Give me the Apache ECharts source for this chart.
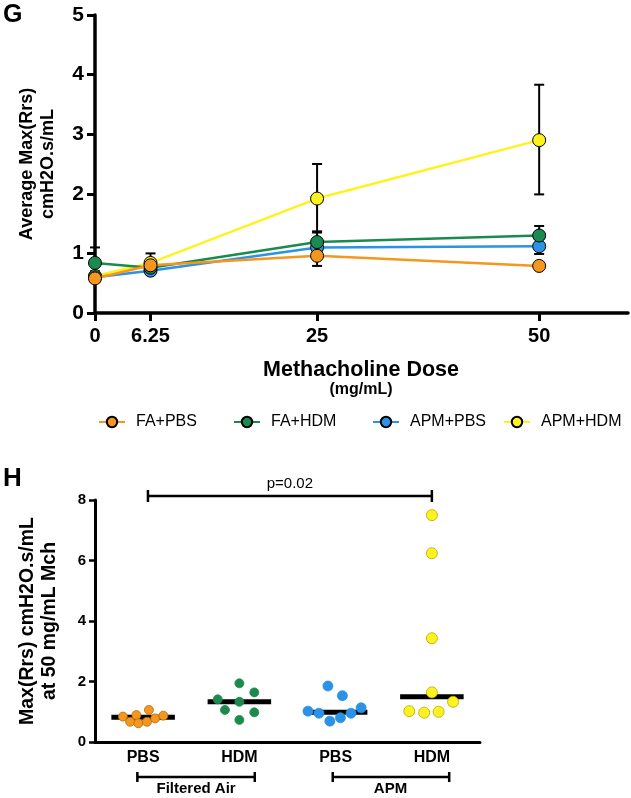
<!DOCTYPE html>
<html><head><meta charset="utf-8">
<script src="https://cdn.jsdelivr.net/npm/echarts@6/dist/echarts.min.js"></script>
<style>html,body{margin:0;padding:0;background:#fff}#c{width:631px;height:798px}</style>
</head><body><div id="c"></div>
<script>
// ---- Panel G data ----
const doses = [0, 6.25, 25, 50];
const doseTicks = [0, 6.25, 25, 50];
const seriesNames = ['FA+PBS', 'FA+HDM', 'APM+PBS', 'APM+HDM'];
const faPbsMean = [0.58, 0.80, 0.96, 0.79];
const faPbsLow  = [0.52, 0.72, 0.79, 0.75];
const faPbsHigh = [0.64, 0.88, 1.13, 0.84];
const faHdmMean = [0.84, 0.76, 1.19, 1.30];
const faHdmLow  = [0.60, 0.70, 1.00, 1.15];
const faHdmHigh = [1.10, 0.82, 1.37, 1.46];
const apmPbsMean = [0.60, 0.71, 1.10, 1.12];
const apmPbsLow  = [0.55, 0.65, 1.04, 0.99];
const apmPbsHigh = [0.65, 0.77, 1.16, 1.25];
const apmHdmMean = [0.62, 0.84, 1.92, 2.90];
const apmHdmLow  = [0.55, 0.68, 1.35, 1.99];
const apmHdmHigh = [0.70, 1.00, 2.50, 3.83];

// ---- Panel H data ----
const groupLabels = ['PBS', 'HDM', 'PBS', 'HDM'];
const faPbsPts    = [0.84, 0.67, 0.89, 0.62, 0.67, 1.06, 0.78, 0.87];
const faPbsJitter = [-0.21, -0.135, -0.07, -0.05, 0.04, 0.06, 0.125, 0.21];
const faHdmPts    = [1.41, 1.06, 1.94, 1.33, 0.73, 1.64, 0.98];
const faHdmJitter = [-0.225, -0.15, 0, 0, 0, 0.155, 0.155];
const apmPbsPts    = [1.02, 0.95, 1.85, 0.69, 0.80, 1.53, 0.95, 1.13];
const apmPbsJitter = [-0.287, -0.173, -0.08, -0.06, 0.05, 0.07, 0.16, 0.265];
const apmHdmPts    = [1.02, 0.97, 1.00, 1.64, 1.33, 7.50, 6.24, 3.43];
const apmHdmJitter = [-0.235, -0.08, 0.07, 0, 0.22, 0, 0, 0];
const medians = [0.82, 1.33, 0.98, 1.50];
const pText = 'p=0.02';
const exposureLabels = ['Filtered Air', 'APM'];

const FONT = "'Liberation Sans', Arial, sans-serif";
const colors = ['#F5961E', '#1A8A4E', '#2C92E6', '#FFF21E'];
const dotBorders = ['#B86A10', '#1A8A4E', '#2C92E6', '#B5A800'];
const dotSizes = [9, 9, 10, 11];
const legendLefts = [93, 228, 367, 498];

const means = [faPbsMean, faHdmMean, apmPbsMean, apmHdmMean];
const lows = [faPbsLow, faHdmLow, apmPbsLow, apmHdmLow];
const highs = [faPbsHigh, faHdmHigh, apmPbsHigh, apmHdmHigh];
const pts = [faPbsPts, faHdmPts, apmPbsPts, apmHdmPts];
const jit = [faPbsJitter, faHdmJitter, apmPbsJitter, apmHdmJitter];

const chart = echarts.init(document.getElementById('c'), null, {renderer: 'canvas'});

const series = [];
// error bars (drawn under symbols)
seriesNames.forEach((n, i) => {
  series.push({
    type: 'custom', name: n + ' err', xAxisIndex: 0, yAxisIndex: 0, z: 1,
    data: doses.map((d, k) => [d, lows[i][k], highs[i][k]]),
    encode: {x: 0, y: [1, 2]},
    renderItem: function (params, api) {
      const x = api.value(0);
      const lo = api.coord([x, api.value(1)]);
      const hi = api.coord([x, api.value(2)]);
      const w = 5;
      const st = {stroke: '#000', lineWidth: 2};
      return {type: 'group', children: [
        {type: 'line', shape: {x1: lo[0], y1: lo[1], x2: hi[0], y2: hi[1]}, style: st},
        {type: 'line', shape: {x1: lo[0] - w, y1: lo[1], x2: lo[0] + w, y2: lo[1]}, style: st},
        {type: 'line', shape: {x1: hi[0] - w, y1: hi[1], x2: hi[0] + w, y2: hi[1]}, style: st}
      ]};
    }
  });
});
// lines, orange on top
const zOrder = [6, 4, 3, 2];
seriesNames.forEach((n, i) => {
  series.push({
    type: 'line', name: n, xAxisIndex: 0, yAxisIndex: 0, z: zOrder[i],
    data: doses.map((d, k) => [d, means[i][k]]),
    symbol: 'circle', symbolSize: 13,
    lineStyle: {color: colors[i], width: 2.5},
    itemStyle: {color: colors[i], borderColor: '#000', borderWidth: 1},
    emphasis: {disabled: true}
  });
});
// medians
series.push({
  type: 'custom', name: 'median', xAxisIndex: 1, yAxisIndex: 1, z: 1,
  data: medians.map((m, i) => [i + 0.5, m]),
  renderItem: function (params, api) {
    const x = api.value(0), y = api.value(1);
    const a = api.coord([x - 0.33, y]), b = api.coord([x + 0.33, y]);
    return {type: 'line', shape: {x1: a[0], y1: a[1], x2: b[0], y2: b[1]}, style: {stroke: '#000', lineWidth: 5}};
  }
});
// dots
seriesNames.forEach((n, i) => {
  series.push({
    type: 'scatter', name: n + ' pts', xAxisIndex: 1, yAxisIndex: 1, z: 3,
    data: pts[i].map((v, k) => [i + 0.5 + jit[i][k], v]),
    symbol: 'circle', symbolSize: dotSizes[i],
    itemStyle: {color: colors[i], borderColor: dotBorders[i], borderWidth: 0.8, opacity: 1},
    emphasis: {disabled: true}
  });
});

const axisLine = w => ({show: true, onZero: false, lineStyle: {color: '#000', width: w}});

const option = {
  animation: false,
  backgroundColor: '#fff',
  textStyle: {fontFamily: FONT},
  grid: [
    {left: 95, right: 3, top: 15, height: 298},
    {left: 95, width: 385, top: 500, height: 242}
  ],
  legend: seriesNames.map((n, i) => ({
    data: [n], left: legendLefts[i], top: 409, itemWidth: 26, itemHeight: 13,
    textStyle: {fontSize: 16, color: '#000', fontFamily: FONT, padding: [0, 0, 0, 6]},
    selectedMode: false
  })),
  xAxis: [
    {type: 'value', gridIndex: 0, min: 0, max: 60,
     axisLine: axisLine(3.5),
     axisTick: {show: true, customValues: doseTicks, length: 8, lineStyle: {color: '#000', width: 3}},
     axisLabel: {customValues: doseTicks, fontSize: 20, fontWeight: 'bold', color: '#000', margin: 13, fontFamily: FONT},
     splitLine: {show: false}},
    {type: 'value', gridIndex: 1, min: 0, max: 4,
     axisLine: axisLine(3),
     axisTick: {show: false},
     axisLabel: {customValues: [0.5, 1.5, 2.5, 3.5], formatter: v => groupLabels[Math.floor(v)],
       fontSize: 16, fontWeight: 'bold', color: '#000', margin: 8, fontFamily: FONT},
     splitLine: {show: false}}
  ],
  yAxis: [
    {type: 'value', gridIndex: 0, min: 0, max: 5, interval: 1,
     axisLine: axisLine(3.5),
     axisTick: {show: true, length: 8, lineStyle: {color: '#000', width: 3}},
     axisLabel: {fontSize: 21, fontWeight: 'bold', color: '#000', margin: 11, fontFamily: FONT},
     splitLine: {show: false},
     name: 'Average Max(Rrs)\ncmH2O.s/mL', nameLocation: 'middle', nameRotate: 90, nameGap: 36,
     nameTextStyle: {fontSize: 18, fontWeight: 'bold', color: '#000', lineHeight: 21, fontFamily: FONT}},
    {type: 'value', gridIndex: 1, min: 0, max: 8, interval: 2,
     axisLine: axisLine(3),
     axisTick: {show: true, length: 6, lineStyle: {color: '#000', width: 2.5}},
     axisLabel: {fontSize: 15, fontWeight: 'bold', color: '#000', margin: 9, fontFamily: FONT},
     splitLine: {show: false},
     name: 'Max(Rrs) cmH2O.s/mL\nat 50 mg/mL Mch', nameLocation: 'middle', nameRotate: 90, nameGap: 34,
     nameTextStyle: {fontSize: 19.5, fontWeight: 'bold', color: '#000', lineHeight: 22, fontFamily: FONT}}
  ],
  series: series
};
chart.setOption(option);

// annotations
const px = v => chart.convertToPixel({xAxisIndex: 1}, v);
const gridBottom = chart.convertToPixel({yAxisIndex: 1}, 0);
const gridTop = chart.convertToPixel({yAxisIndex: 1}, 8);
const st = {stroke: '#000', lineWidth: 2.5};
const g = [];
function bracket(x1, x2, y, cap) {
  g.push({type: 'line', shape: {x1: x1, y1: y, x2: x2, y2: y}, style: st});
  g.push({type: 'line', shape: {x1: x1, y1: y - cap, x2: x1, y2: y + cap}, style: st});
  g.push({type: 'line', shape: {x1: x2, y1: y - cap, x2: x2, y2: y + cap}, style: st});
}
const pY = gridTop - 4;
bracket(px(0.55), px(3.5), pY, 6);
g.push({type: 'text', x: (px(0.55) + px(3.5)) / 2, y: pY - 12,
  style: {text: pText, font: '15px ' + FONT, fill: '#000', align: 'center', verticalAlign: 'middle'}});
const gY = gridBottom + 35;
bracket(px(0.44), px(1.66), gY, 5);
bracket(px(2.47), px(3.68), gY, 5);
g.push({type: 'text', x: px(1.05), y: gY + 12,
  style: {text: exposureLabels[0], font: 'bold 15px ' + FONT, fill: '#000', align: 'center', verticalAlign: 'middle'}});
g.push({type: 'text', x: px(3.07), y: gY + 12,
  style: {text: exposureLabels[1], font: 'bold 15px ' + FONT, fill: '#000', align: 'center', verticalAlign: 'middle'}});
// panel letters and x-axis title
g.push({type: 'text', x: 3, y: 3, style: {text: 'G', font: 'bold 25px ' + FONT, fill: '#000'}});
g.push({type: 'text', x: 3, y: 466, style: {text: 'H', font: 'bold 26px ' + FONT, fill: '#000'}});
g.push({type: 'text', x: 361, y: 370, style: {text: 'Methacholine Dose', font: 'bold 21.5px ' + FONT, fill: '#000', align: 'center', verticalAlign: 'middle'}});
g.push({type: 'text', x: 361, y: 390, style: {text: '(mg/mL)', font: 'bold 16px ' + FONT, fill: '#000', align: 'center', verticalAlign: 'middle'}});
chart.setOption({graphic: g});
</script></body></html>
